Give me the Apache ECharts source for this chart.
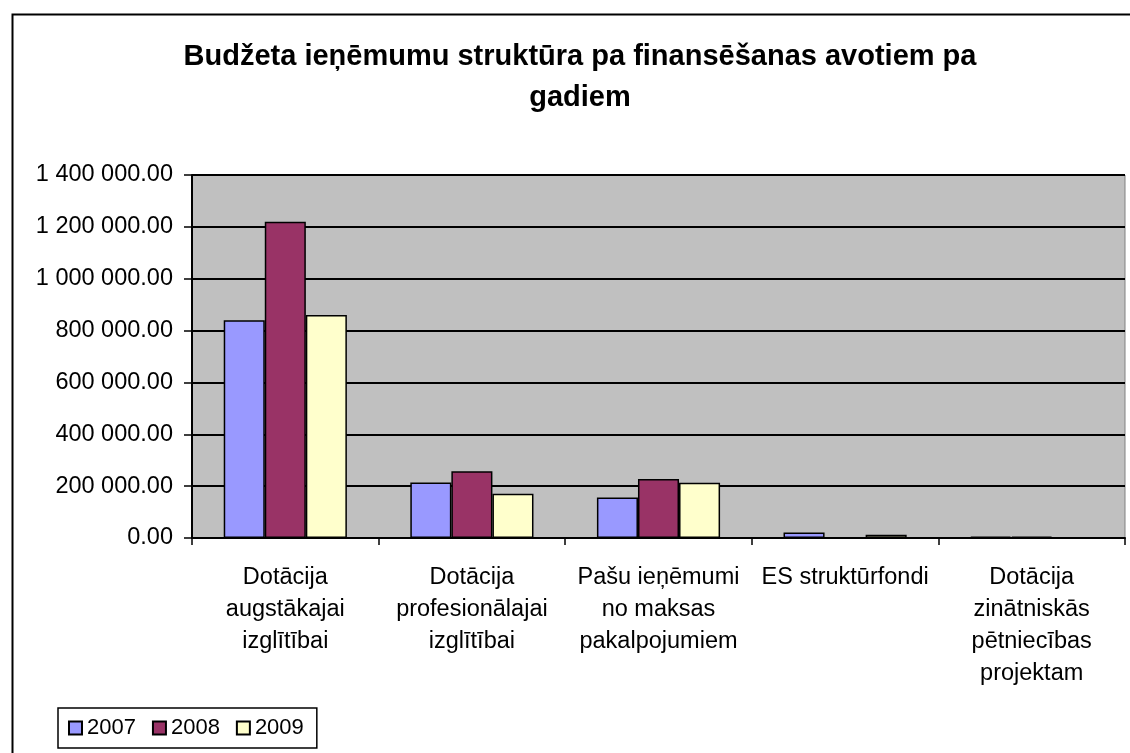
<!DOCTYPE html>
<html><head><meta charset="utf-8">
<script src="https://cdn.jsdelivr.net/npm/echarts@6/dist/echarts.min.js"></script>
<style>html,body{margin:0;padding:0;background:#fff}#c{width:1130px;height:753px}</style>
</head><body><div id="c"></div>
<script>
const categories = [
  "Dotācija\naugstākajai\nizglītībai",
  "Dotācija\nprofesionālajai\nizglītībai",
  "Pašu ieņēmumi\nno maksas\npakalpojumiem",
  "ES struktūrfondi",
  "Dotācija\nzinātniskās\npētniecības\nprojektam"
];
const seriesNames = ["2007", "2008", "2009"];
const values2007 = [840000, 214000, 156000, 21000, 5000];
const values2008 = [1220000, 257000, 228000, 0, 5000];
const values2009 = [860000, 171000, 213000, 13000, 0];
const yTicks = [0, 200000, 400000, 600000, 800000, 1000000, 1200000, 1400000];
const colors = ["#9999FF", "#993366", "#FFFFCC"];
const FONT = 'Arial, "Liberation Sans", sans-serif';

function fmt(v) {
  const parts = v.toFixed(2).split('.');
  return parts[0].replace(/\B(?=(\d{3})+(?!\d))/g, ' ') + '.' + parts[1];
}

const chart = echarts.init(document.getElementById('c'));
const data = [values2007, values2008, values2009];
chart.setOption({
  animation: false,
  graphic: [{
    type: 'rect', left: 10, top: 12, z: -10,
    shape: { width: 1200, height: 800 },
    style: { fill: 'none', stroke: '#000', lineWidth: 2 }
  }],
  title: {
    text: "Budžeta ieņēmumu struktūra pa finansēšanas avotiem pa\ngadiem",
    left: 575, textAlign: 'center', top: 31,
    textStyle: { fontFamily: FONT, fontSize: 29, fontWeight: 'bold', color: '#000', lineHeight: 41 }
  },
  legend: {
    data: seriesNames, left: 58, top: 708,
    orient: 'horizontal', icon: 'rect',
    borderColor: '#000', borderWidth: 1.5,
    padding: [9, 13, 9, 10],
    itemWidth: 13, itemHeight: 13, itemGap: 16,
    textStyle: { fontFamily: FONT, fontSize: 22, color: '#000' }
  },
  grid: {
    left: 192, right: 5, top: 175, bottom: 215,
    show: true, backgroundColor: '#C0C0C0', borderColor: '#808080', borderWidth: 1
  },
  xAxis: {
    type: 'category', data: categories,
    axisLine: { lineStyle: { color: '#000', width: 2 } },
    axisTick: { show: true, length: 7, lineStyle: { color: '#000', width: 1.5 } },
    axisLabel: { interval: 0, margin: 24, fontFamily: FONT, fontSize: 23.5, color: '#000', lineHeight: 32, align: 'center' }
  },
  yAxis: {
    type: 'value', min: 0, max: 1400000, interval: 200000,
    axisLine: { show: true, lineStyle: { color: '#000', width: 2 } },
    axisTick: { show: true, length: 8, lineStyle: { color: '#000', width: 1.5 } },
    splitLine: { lineStyle: { color: '#000', width: 2 } },
    axisLabel: { margin: 19, fontFamily: FONT, fontSize: 23.5, color: '#000', formatter: fmt, padding: [4, 0, 0, 0] }
  },
  series: seriesNames.map((n, i) => ({
    name: n, type: 'bar', data: data[i],
    barGap: '0%', barCategoryGap: '34%',
    itemStyle: { color: colors[i], borderColor: '#000', borderWidth: 1.5 }
  }))
});
</script></body></html>
